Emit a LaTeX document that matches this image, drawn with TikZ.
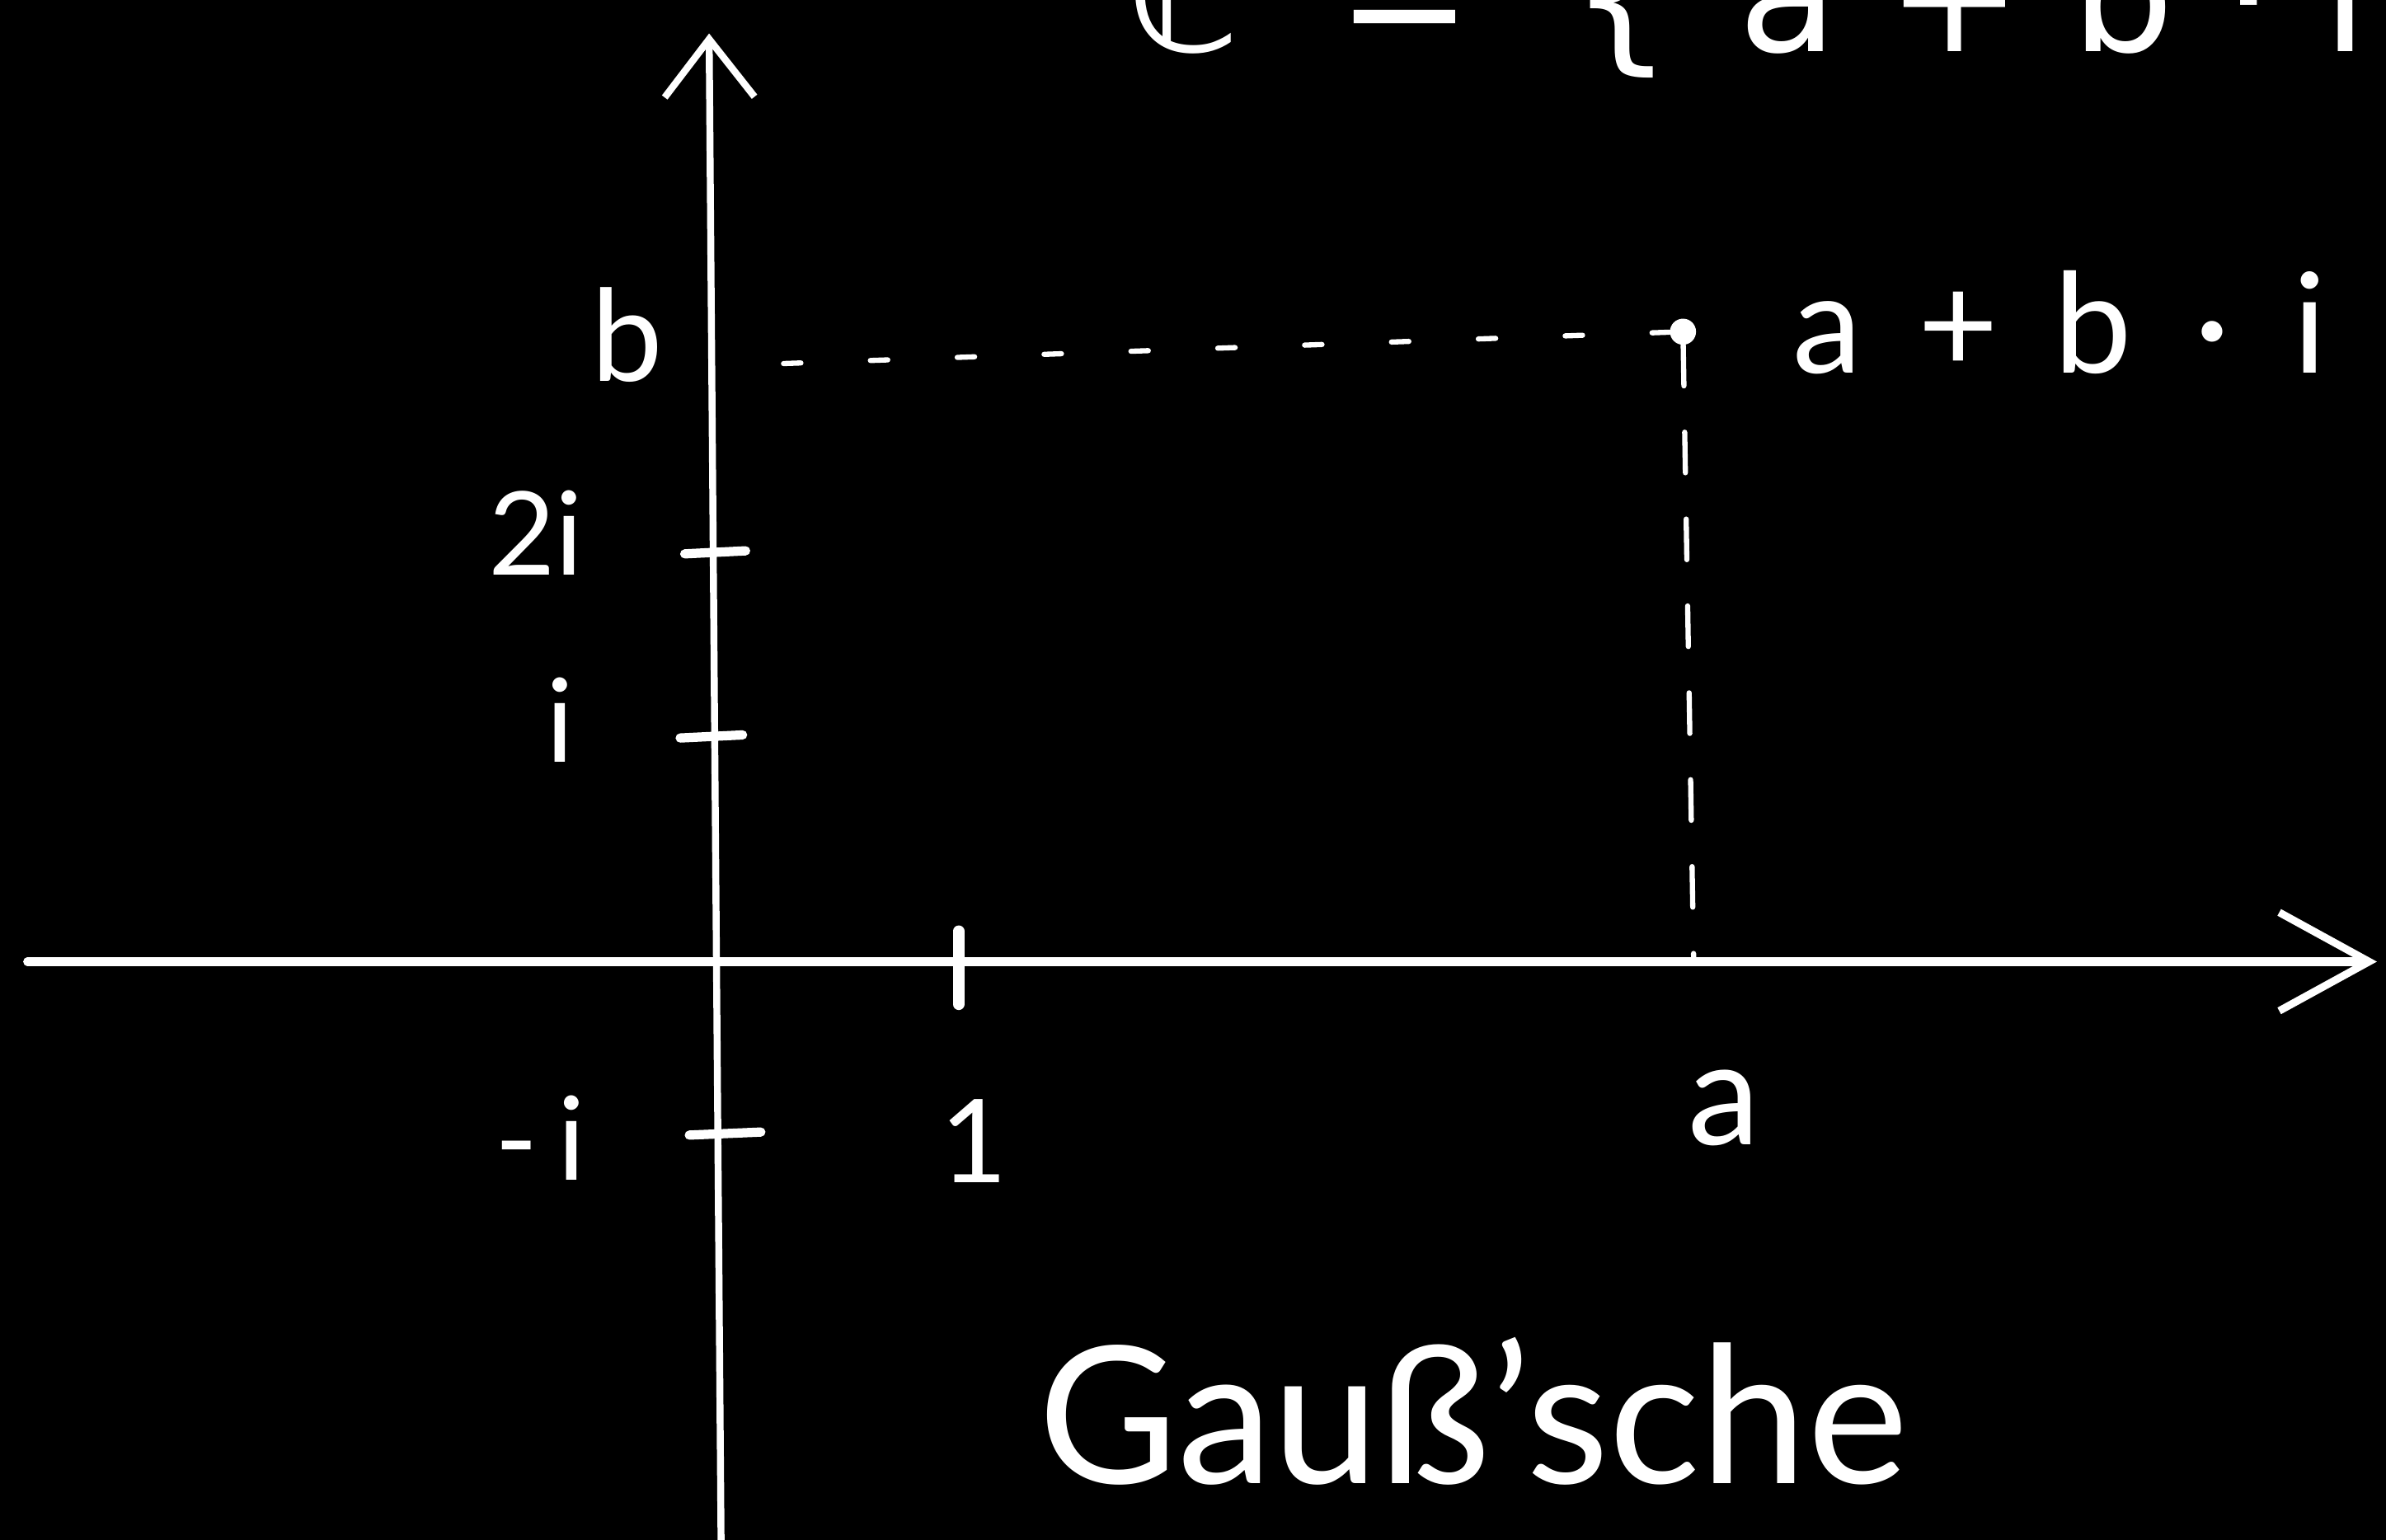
\documentclass[tikz,border=0pt]{standalone}
\usepackage{fontspec}
\setmainfont{Lato}
\newfontfamily\symfont{DejaVu Sans}
\usetikzlibrary{arrows.meta}
\begin{document}
\begin{tikzpicture}[x=0.018457cm,y=-0.018457cm,
  axis/.style={draw=white, line width=2.6pt, line cap=round},
  tickmark/.style={draw=white, line width=3.2pt, line cap=round},
  guide/.style={draw=white, line width=1.8pt, line cap=round},
  lbl/.style={text=white, font=\fontsize{40}{48}\selectfont, inner sep=0pt}]
\useasboundingbox (0,0) rectangle (1568,1012);
\fill[black] (0,0) rectangle (1568,1012);
\clip (0,0) rectangle (1568,1012);

% axes
\coordinate (xs) at (18,632);
\coordinate (xe) at (1562,632);
\coordinate (ys) at (474,1030);
\coordinate (ye) at (466,22);
\draw[axis, line width=2.9pt, -{Straight Barb[length=31pt,width=34pt,line width=2.6pt]}] (xs) -- (xe);
\draw[axis, line width=2.4pt, -{Straight Barb[length=20pt,width=31pt,line width=2.4pt]}] (ys) -- (ye);

% ticks
\coordinate (t1a) at (630,612); \coordinate (t1b) at (630,660);
\coordinate (t2a) at (450,364); \coordinate (t2b) at (490,362);
\coordinate (tia) at (447,485); \coordinate (tib) at (488,483);
\coordinate (tma) at (453,746); \coordinate (tmb) at (500,744);
\draw[tickmark, line width=4pt] (t1a) -- (t1b);
\draw[tickmark] (t2a) -- (t2b);
\draw[tickmark] (tia) -- (tib);
\draw[tickmark] (tma) -- (tmb);

% point and guides
\node[circle, fill=white, minimum size=9pt, inner sep=0pt] (P) at (1106,218) {};
\coordinate (bh) at (485,240);
\coordinate (av) at (1113,630);
\draw[guide, dash pattern=on 6pt off 24pt] (P) -- (bh);
\draw[guide, dash pattern=on 14pt off 16pt] (P) -- (av);

% labels
\node[lbl, font=\fontsize{44}{52}\selectfont] (lb) at (412,220) {b};
\node[lbl] (l2i) at (352,350) {2i};
\node[lbl] (li) at (368,473) {i};
\node[lbl] (lmi) at (355,748) {-\,i};
\node[lbl] (l1) at (640,750) {1};
\node[lbl, font=\fontsize{50}{58}\selectfont] (la) at (1133,728) {a};
\node[lbl, anchor=west, font=\fontsize{48}{56}\selectfont] (lz) at (1178,212) {a\hspace{0.4em}+\hspace{0.4em}b\hspace{0.45em}·\hspace{0.45em}i};

% top, cut-off set notation
\node[text=white, anchor=base west, inner sep=0pt, font=\symfont\fontsize{56}{64}\selectfont] (top) at (740,34) {ℂ\hspace{0.6em}=\hspace{0.6em}\{\hspace{0.4em}a\hspace{0.3em}+\hspace{0.3em}b\hspace{0.3em}·\hspace{0.3em}i};

% bottom word
\node[text=white, anchor=base, inner sep=0pt, font=\fontsize{66}{76}\selectfont] (gauss) at (968,975) {Gauß'sche};
\end{tikzpicture}
\end{document}
